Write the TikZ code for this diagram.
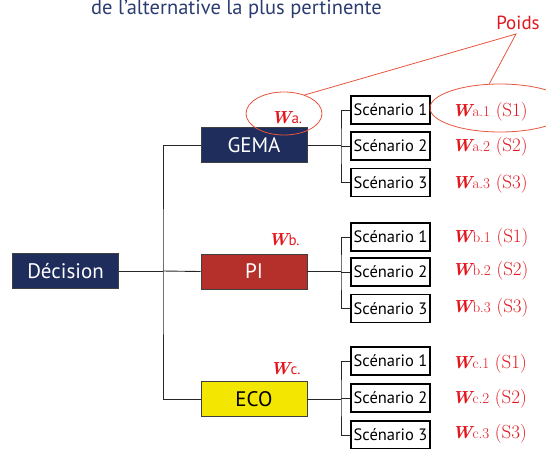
\documentclass[tikz,border=0pt]{standalone}
\usepackage{fontspec}
\newfontfamily\ptsans{PT Sans}
\usetikzlibrary{shapes.geometric}
\definecolor{navy}{HTML}{1F2D5C}
\definecolor{pired}{HTML}{B5302A}
\definecolor{ecoyel}{HTML}{F3E600}
\definecolor{wred}{HTML}{E3161E}
\definecolor{ered}{HTML}{E8553F}
\definecolor{titleblue}{HTML}{2B3C70}
\tikzset{
  mainbox/.style={draw=black!75, line width=0.8pt, minimum width=106pt, minimum height=35pt, inner sep=0pt, font=\ptsans\fontsize{21}{21}\selectfont},
  scenbox/.style={draw=black, line width=1.3pt, fill=white, minimum width=79pt, minimum height=28pt, inner sep=0pt, font=\ptsans\fontsize{16.5}{17}\selectfont},
  link/.style={draw=black!85, line width=0.9pt},
  wlab/.style={text=wred, inner sep=0pt, anchor=base west, font=\fontsize{19}{19}\selectfont},
  halo/.style={draw=ered, line width=0.8pt, ellipse, inner sep=0pt},
  poidsline/.style={draw=ered, line width=0.8pt}
}
\newcommand{\wt}[1]{{\fontsize{17.5}{19}\selectfont\bfseries\itshape W}{\fontsize{15}{15}\selectfont #1}}
\newcommand{\ws}[1]{{\fontsize{17.5}{19}\selectfont\bfseries\itshape W}{\ptsans\fontsize{15}{15}\selectfont #1}}
\begin{document}
\begin{tikzpicture}[x=1pt,y=-1pt]
\useasboundingbox (0,0) rectangle (546,448);
\begin{scope}
\clip (0,0) rectangle (546,448);
% title
\node[anchor=base west, inner sep=0pt, text=titleblue, font=\ptsans\fontsize{20.5}{20}\selectfont] (title) at (91,14) {de l’alternative la plus pertinente};

% main boxes
\node[mainbox, fill=navy, text=white] (dec) at (65.5,271) {Décision};
\node[mainbox, fill=navy, text=white] (gema) at (254,145) {GEMA};
\node[mainbox, fill=pired, text=white] (pi) at (254,271.5) {PI};
\node[mainbox, fill=ecoyel, text=black] (eco) at (254,399) {ECO};

\coordinate (trunk) at (163,271);
\draw[link] (dec.east) -- (trunk);
\draw[link] (gema.west) -| (trunk) |- (eco.west);
\draw[link] (trunk) -- (pi.west);

% scenario boxes
\foreach \g/\ya/\yb/\yc in {a/110/146/182.5, b/237/272/308.5, c/361/398/435}{
  \node[scenbox] (\g1) at (390.5,\ya) {Scénario 1};
  \node[scenbox] (\g2) at (390.5,\yb) {Scénario 2};
  \node[scenbox] (\g3) at (390.5,\yc) {Scénario 3};
  \coordinate (\g v) at (341,\yb);
}
\foreach \g/\pp in {a/gema, b/pi, c/eco}{
  \draw[link] (\pp.east) -- (\pp.east -| \g v);
  \draw[link] (\g1.west) -| (\g v) |- (\g3.west);
  \draw[link] (\g v) -- (\g2.west);
}

% weight labels
\node[wlab] (wa1) at (452,116) {\wt{a.1} (S1)};
\node[wlab] (wa2) at (452,151.5) {\wt{a.2} (S2)};
\node[wlab] (wa3) at (452,188) {\wt{a.3} (S3)};
\node[wlab] (wb1) at (452,242) {\wt{b.1} (S1)};
\node[wlab] (wb2) at (452,275) {\wt{b.2} (S2)};
\node[wlab] (wb3) at (452,312) {\wt{b.3} (S3)};
\node[wlab] (wc1) at (452,368) {\wt{c.1} (S1)};
\node[wlab] (wc2) at (452,403) {\wt{c.2} (S2)};
\node[wlab] (wc3) at (452,438) {\wt{c.3} (S3)};

\node[wlab] (wa) at (271,123) {\ws{a.}};
\node[wlab] (wb) at (268,245) {\ws{b.}};
\node[wlab] (wc) at (270,374) {\ws{c.}};

% halos and Poids
\node[halo, minimum width=76pt, minimum height=43pt] (ea) at (284,113.5) {};
\node[halo, minimum width=140pt, minimum height=48pt] (eb) at (500,108) {};
\node[inner sep=0pt, text=wred, font=\ptsans\fontsize{19}{19}\selectfont, anchor=base] (poids) at (518,29) {Poids};
\coordinate (apex) at (516,34);
\draw[poidsline] (ea.42) -- (apex) -- (eb.114);
\end{scope}
\end{tikzpicture}
\end{document}
